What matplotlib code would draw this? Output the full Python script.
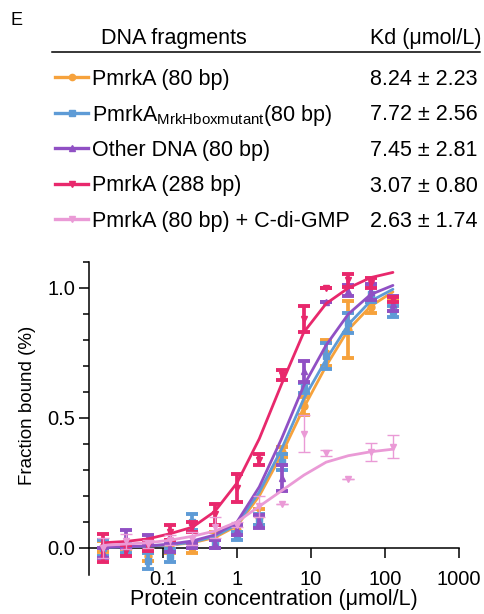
import matplotlib
matplotlib.use("Agg")
import matplotlib.pyplot as plt
from matplotlib.ticker import FixedLocator, NullLocator, FixedFormatter

plt.rcParams['font.family'] = ['Liberation Sans', 'DejaVu Sans']
plt.rcParams['mathtext.fontset'] = 'custom'
plt.rcParams['mathtext.rm'] = 'Liberation Sans'

# protein concentration (umol/L), 2-fold dilution series
conc = [0.015625, 0.03125, 0.0625, 0.125, 0.25, 0.5, 1, 2, 4, 8, 16, 32, 64, 128]

# measured fraction bound (mean, error)
orange_y = [0.005, -0.015, -0.03, 0.005, 0.0, 0.03, 0.07, 0.12, 0.37, 0.545, 0.75, 0.84, 0.925, 0.93]
orange_e = [0.02, 0.01, 0.02, 0.025, 0.02, 0.03, 0.02, 0.03, 0.02, 0.035, 0.05, 0.11, 0.02, 0.02]
blue_y = [0.0, 0.0, -0.05, -0.03, 0.1, 0.015, 0.045, 0.11, 0.33, 0.615, 0.74, 0.865, 0.975, 0.91]
blue_e = [0.03, 0.02, 0.03, 0.025, 0.03, 0.015, 0.015, 0.02, 0.03, 0.02, 0.05, 0.04, 0.03, 0.02]
purple_y = [-0.02, 0.035, 0.03, 0.0, 0.01, 0.015, 0.07, 0.1, 0.27, 0.68, 0.945, 0.99, 0.985, 0.94]
purple_e = [0.02, 0.035, 0.02, 0.015, 0.01, 0.015, 0.02, 0.025, 0.05, 0.04, 0.0, 0.02, 0.03, 0.03]
red_y = [0.0, -0.01, 0.01, 0.06, 0.08, 0.13, 0.23, 0.34, 0.665, 0.88, 1.0, 1.03, 1.02, 0.955]
red_e = [0.055, 0.02, 0.02, 0.03, 0.02, 0.04, 0.055, 0.02, 0.02, 0.05, 0.0, 0.025, 0.02, 0.01]
pink_y = [0.0, 0.025, 0.015, 0.03, 0.035, 0.08, 0.09, 0.16, 0.17, 0.44, 0.365, 0.265, 0.37, 0.39]
pink_e = [0.04, 0.03, 0.015, 0.02, 0.025, 0.04, 0.01, 0.04, 0.0, 0.07, 0.01, 0.0, 0.035, 0.045]

# fitted curves, read at the same concentrations
orange_fit = [0.002, 0.003, 0.006, 0.011, 0.02, 0.04, 0.085, 0.2, 0.36, 0.54, 0.70, 0.84, 0.93, 0.985]
blue_fit = [0.002, 0.004, 0.007, 0.012, 0.022, 0.045, 0.09, 0.215, 0.38, 0.575, 0.725, 0.86, 0.95, 0.995]
purple_fit = [0.003, 0.005, 0.008, 0.015, 0.027, 0.05, 0.1, 0.235, 0.42, 0.625, 0.78, 0.9, 0.975, 1.01]
red_fit = [0.02, 0.025, 0.035, 0.055, 0.08, 0.14, 0.25, 0.42, 0.63, 0.83, 0.94, 1.0, 1.04, 1.06]
pink_fit = [0.01, 0.015, 0.02, 0.03, 0.045, 0.065, 0.1, 0.16, 0.22, 0.28, 0.33, 0.355, 0.37, 0.38]

labels = ['PmrkA (80 bp)', r'PmrkA$_{\mathrm{MrkHboxmutant}}$(80 bp)', 'Other DNA (80 bp)',
          'PmrkA (288 bp)', 'PmrkA (80 bp) + C-di-GMP']
kd_text = ['8.24 \u00b1 2.23', '7.72 \u00b1 2.56', '7.45 \u00b1 2.81', '3.07 \u00b1 0.80', '2.63 \u00b1 1.74']
colors = ['#F6A23C', '#5E9BD6', '#9050C4', '#E8286C', '#EA9AD6']
markers = ['o', 's', '^', 'v', 'v']

series = [(orange_y, orange_e, orange_fit), (blue_y, blue_e, blue_fit),
          (purple_y, purple_e, purple_fit), (red_y, red_e, red_fit),
          (pink_y, pink_e, pink_fit)]

fig = plt.figure(figsize=(4.84, 6.14), dpi=100)
ax = fig.add_axes([89/484, 1-575/614, 370/484, 313/614])

for i, (y, e, f) in enumerate(series):
    c = colors[i]
    thin = (i == 4)
    ax.errorbar(conc, y, yerr=e, fmt='none', ecolor=c,
                elinewidth=1.0 if thin else 2.7, capsize=4,
                capthick=1.0 if thin else 2.8, zorder=2 + i)
    ax.plot(conc, y, ls='none', marker=markers[i], color=c, ms=5, zorder=2 + i)
    ax.plot(conc, f, color=c, lw=2.0, zorder=2 + i, solid_capstyle='round')

ax.set_xscale('log')
ax.set_xlim(0.01, 1000)
ax.set_ylim(-0.104, 1.1)

for s in ['top', 'right']:
    ax.spines[s].set_visible(False)
ax.spines['bottom'].set_position(('data', 0))
ax.spines['left'].set_linewidth(1.1)
ax.spines['bottom'].set_linewidth(1.1)

ax.xaxis.set_major_locator(FixedLocator([0.1, 1, 10, 100, 1000]))
ax.xaxis.set_major_formatter(FixedFormatter(['0.1', '1', '10', '100', '1000']))
ax.xaxis.set_minor_locator(NullLocator())
ax.tick_params(axis='x', which='major', length=7, width=1.1, pad=9, labelsize=14.5)

ax.yaxis.set_major_locator(FixedLocator([0.0, 0.5, 1.0]))
ax.yaxis.set_major_formatter(FixedFormatter(['0.0', '0.5', '1.0']))
ax.yaxis.set_minor_locator(FixedLocator([0.1, 0.2, 0.3, 0.4, 0.6, 0.7, 0.8, 0.9, 1.1]))
ax.tick_params(axis='y', which='major', length=7, width=1.1, pad=3, labelsize=14.5)
ax.tick_params(axis='y', which='minor', length=4, width=1.1)

fig.text(274/484, 1-600/614, 'Protein concentration (\u03bcmol/L)', ha='center', va='center', fontsize=15.5)
fig.text(28/484, 1-405/614, 'Fraction bound (%)', ha='center', va='center', rotation=90, fontsize=13.5)

# header table / legend (pixel coordinates)
lax = fig.add_axes([0, 0, 1, 1])
lax.set_xlim(0, 484)
lax.set_ylim(614, 0)
lax.axis('off')

lax.text(10, 25, 'E', fontsize=13, va='baseline')
lax.text(174, 44, 'DNA fragments', fontsize=15.5, ha='center', va='baseline')
lax.text(370, 44, 'Kd (\u03bcmol/L)', fontsize=15.5, ha='left', va='baseline')
lax.plot([52, 480], [52, 52], color='black', lw=1.1)

for i in range(5):
    base = 85 + 35.5 * i
    yc = base - 8
    lax.plot([55, 88], [yc, yc], color=colors[i], lw=2.4)
    lax.plot([71.5], [yc], marker=markers[i], color=colors[i], ms=4.5)
    lax.text(92, base, labels[i], fontsize=15.5, va='baseline')
    lax.text(370, base, kd_text[i], fontsize=15.5, va='baseline')

fig.savefig('out.png', dpi=100)
